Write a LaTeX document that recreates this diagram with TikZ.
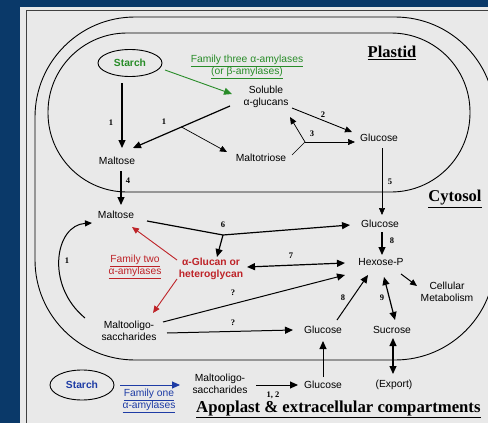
\documentclass[tikz,border=0pt]{standalone}
\usepackage{fontspec}
\setmainfont{Liberation Serif}
\setsansfont{Liberation Sans}
\usetikzlibrary{arrows.meta,shapes.geometric,calc}
\definecolor{bgblue}{RGB}{10,57,105}
\definecolor{panel}{RGB}{233,233,233}
\definecolor{grn}{RGB}{40,140,40}
\definecolor{rd}{RGB}{190,35,40}
\definecolor{blu}{RGB}{30,60,165}
\begin{document}
\begin{tikzpicture}[x=1pt,y=-1pt,
  lbl/.style={font=\sffamily\fontsize{10.3}{12}\selectfont, align=center, inner sep=1pt},
  blbl/.style={font=\sffamily\bfseries\fontsize{10.3}{12.5}\selectfont, align=center, inner sep=1pt},
  num/.style={font=\rmfamily\bfseries\fontsize{8.5}{10}\selectfont, inner sep=0pt},
  head/.style={font=\rmfamily\bfseries\fontsize{16.5}{18}\selectfont, inner sep=0pt},
  oval/.style={ellipse, draw, line width=0.9pt, inner sep=0pt},
  thk/.style={line width=1.2pt, -{Triangle[length=8pt,width=7pt]}},
  thn/.style={line width=0.7pt, -{Triangle[length=7pt,width=6pt]}},
  dbl/.style={line width=1.2pt, {Triangle[length=8pt,width=7pt]}-{Triangle[length=8pt,width=7pt]}},
  bare/.style={line width=1.2pt},
  barethin/.style={line width=0.7pt}
]
\useasboundingbox (0,0) rectangle (488,423);
\fill[bgblue] (0,0) rectangle (488,423);
\fill[panel] (20,7) rectangle (488,423);
\begin{scope}
\clip (0,0) rectangle (488,423);
\draw[line width=1pt, black!75] (26,10) rectangle (500,440);
\draw[line width=0.9pt, rounded corners=100pt] (35,17) rectangle (495,360);
\draw[line width=0.9pt, rounded corners=79pt] (48,33) rectangle (470,192);
\end{scope}

% headings
\node[head] (plastid) at (392,53) {\underline{Plastid}};
\node[head] (cytosol) at (455,199) {\underline{Cytosol}};
\node[head, font=\rmfamily\bfseries\fontsize{16.7}{19}\selectfont, anchor=west] (apoplast) at (196,409) {\underline{Apoplast \& extracellular compartments}};

% plastid nodes
\node[oval, minimum width=64pt, minimum height=27pt, font=\sffamily\bfseries\fontsize{10.3}{12}\selectfont, text=grn] (starchP) at (130,63) {Starch};
\node[lbl, text=grn] (famthree) at (247,67) {\underline{Family three α-amylases}\\\underline{(or β-amylases)}};
\node[lbl] (soluble) at (266,97) {Soluble\\α-glucans};
\node[lbl] (glcP) at (379,138) {Glucose};
\node[lbl] (maltotriose) at (261,158) {Maltotriose};
\node[lbl] (maltP) at (117,161) {Maltose};

% cytosol nodes
\node[lbl] (maltC) at (116,215) {Maltose};
\node[lbl] (glcC) at (380,224) {Glucose};
\node[lbl] (hexP) at (381,262) {Hexose-P};
\node[blbl, text=rd] (agluc) at (211,269) {α-Glucan or\\heteroglycan};
\node[lbl, text=rd] (famtwo) at (135,267) {\underline{Family two}\\\underline{α-amylases}};
\node[lbl] (moligoC) at (129,331) {Maltooligo-\\saccharides};
\node[lbl] (glcL) at (323,330) {Glucose};
\node[lbl] (sucrose) at (392,330) {Sucrose};
\node[lbl] (cellmet) at (447,292) {Cellular\\Metabolism};

% apoplast nodes
\node[lbl] (export) at (394,385) {(Export)};
\node[lbl] (glcA) at (323,385) {Glucose};
\node[lbl] (moligoA) at (220,384) {Maltooligo-\\saccharides};
\node[oval, minimum width=64pt, minimum height=30pt, font=\sffamily\bfseries\fontsize{10.3}{12}\selectfont, text=blu] (starchA) at (82,385) {Starch};
\node[lbl, text=blu] (famone) at (149,401) {\underline{Family one}\\\underline{α-amylases}};

% numbers
\node[num] (n1a) at (111,123) {1};
\node[num] (n1b) at (164,122) {1};
\node[num] (n2) at (323,115) {2};
\node[num] (n3) at (312,134) {3};
\node[num] (n4) at (128,181) {4};
\node[num] (n5) at (390,182) {5};
\node[num] (n6) at (223,225) {6};
\node[num] (n7) at (291,256) {7};
\node[num] (n8a) at (392,241) {8};
\node[num] (n8b) at (343,298) {8};
\node[num] (n9) at (382,298) {9};
\node[num] (q1) at (233,293) {?};
\node[num] (q2) at (233,323) {?};
\node[num] (n1c) at (67,261) {1};
\node[num] (n12) at (273,395) {1, 2};

% plastid arrows
\draw[thk] ($(starchP)+(-8,20)$) -- ($(maltP)+(5,-13)$);
\coordinate (s1) at ($(soluble)+(-36,9)$);
\coordinate (e1) at ($(maltP)+(16,-13)$);
\draw[thk] (s1) -- (e1);
\coordinate (b1) at ($(s1)!0.5!(e1)$);
\draw[thn] (b1) -- ($(maltotriose)+(-34,-6)$);
\draw[grn, line width=0.9pt, -{Triangle[length=8pt,width=7pt]}] ($(starchP)+(35,7)$) -- ($(soluble)+(-34,-3)$);
\draw[line width=0.9pt, -{Triangle[length=7pt,width=6pt]}] ($(soluble)+(26,11)$) -- ($(glcP)+(-27,-6)$);
\coordinate (f3) at ($(maltotriose)+(44,-16)$);
\draw[barethin] ($(maltotriose)+(31,-3)$) -- (f3);
\draw[thn] (f3) -- ($(soluble)+(24,20)$);
\draw[thn] (f3) -- ($(glcP)+(-24,4)$);
\draw[thn] ($(glcP)+(3,10)$) -- ($(glcC)+(2,-9)$);
\draw[thk] ($(maltP)+(4,10)$) -- ($(maltC)+(5,-10)$);

% cytosol arrows
\coordinate (f6) at ($(maltC)+(107,20)$);
\draw[bare] ($(maltC)+(31,6)$) -- (f6);
\draw[thk] (f6) -- ($(agluc)+(6,-12)$);
\draw[thk] (f6) -- ($(glcC)+(-30,1)$);
\draw[thk] ($(glcC)+(2,8)$) -- ($(hexP)+(1,-7)$);
\draw[dbl] ($(agluc)+(36,-2)$) -- ($(hexP)+(-36,1)$);
\draw[rd, line width=0.9pt, -{Triangle[length=7pt,width=6pt]}] ($(agluc)+(-34,-9)$) -- ($(maltC)+(16,12)$);
\draw[rd, line width=0.9pt, -{Triangle[length=7pt,width=6pt]}] ($(agluc)+(-34,10)$) -- ($(moligoC)+(24,-18)$);
\draw[line width=1pt, -{Triangle[length=8pt,width=7pt]}] ($(moligoC)+(34,-9)$) -- ($(hexP)+(-36,13)$);
\draw[line width=1pt, -{Triangle[length=8pt,width=7pt]}] ($(moligoC)+(38,2)$) -- ($(glcL)+(-30,0)$);
\draw[line width=1pt, -{Triangle[length=8pt,width=7pt]}] ($(glcL)+(14,-10)$) -- ($(hexP)+(-13,13)$);
\draw[dbl] ($(hexP)+(3,15)$) -- ($(sucrose)+(3,-10)$);
\draw[line width=1pt, -{Triangle[length=7pt,width=6pt]}] ($(hexP)+(20,12)$) -- ($(cellmet)+(-30,-6)$);
\draw[line width=1pt, -{Triangle[length=7pt,width=6pt]}] ($(moligoC)+(-44,-13)$) .. controls ($(moligoC)+(-84,-46)$) and ($(maltC)+(-61,10)$) .. ($(maltC)+(-24,8)$);

% apoplast arrows
\draw[dbl] ($(sucrose)+(1,8)$) -- ($(export)+(-1,-11)$);
\draw[line width=1pt, -{Triangle[length=8pt,width=7pt]}] ($(glcA)+(0,-8)$) -- ($(glcL)+(0,11)$);
\draw[line width=1pt, -{Triangle[length=8pt,width=7pt]}] ($(moligoA)+(36,1)$) -- ($(glcA)+(-25,0)$);
\draw[blu, line width=0.9pt, -{Triangle[length=8pt,width=7pt]}] ($(starchA)+(38,0)$) -- ($(moligoA)+(-40,1)$);
\end{tikzpicture}
\end{document}
